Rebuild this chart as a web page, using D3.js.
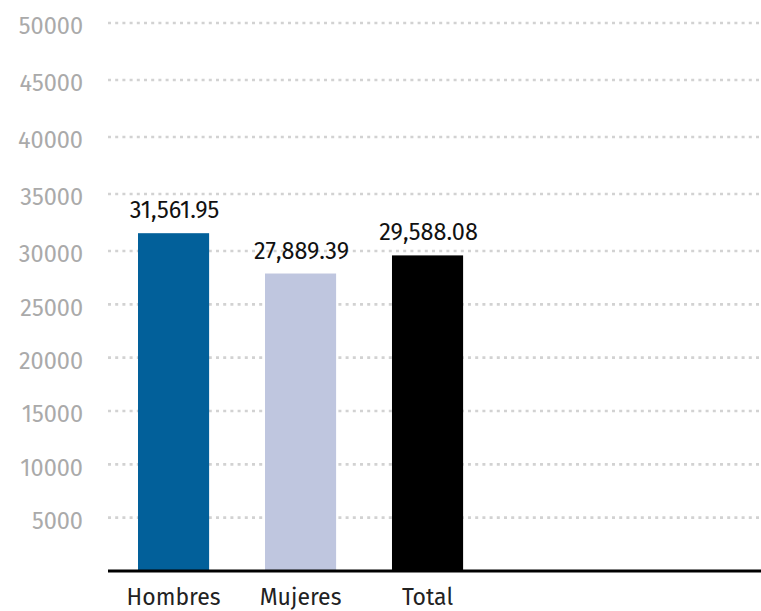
<!DOCTYPE html>
<html>
<head>
<meta charset="utf-8">
<script src="https://cdn.jsdelivr.net/npm/d3@7"></script>
<style>
  html, body { margin: 0; padding: 0; background: #fff; }
  svg { display: block; }
</style>
</head>
<body>
<svg id="chart" width="761" height="611"></svg>
<script>
const categories = ["Hombres", "Mujeres", "Total"];
const values = [31561.95, 27889.39, 29588.08];
const colors = ["#02609a", "#bfc6df", "#000000"];
const yTicks = [5000, 10000, 15000, 20000, 25000, 30000, 35000, 40000, 45000, 50000];
const valueLabels = ["31,561.95", "27,889.39", "29,588.08"];

const svg = d3.select("#chart");
const font = "'Fira Sans', 'Noto Sans', 'Open Sans', sans-serif";

const x = d3.scaleBand()
  .domain(categories)
  .range([112.6, 488.5])
  .paddingInner(0.44)
  .paddingOuter(0.2);

const y = d3.scaleLinear()
  .domain([0, 30000, 50000])
  .range([571, 251, 23]);

// gridlines
svg.append("g").selectAll("line")
  .data(yTicks)
  .join("line")
  .attr("x1", 108).attr("x2", 761)
  .attr("y1", d => y(d)).attr("y2", d => y(d))
  .attr("stroke", "#d2d2d2")
  .attr("stroke-width", 2.6)
  .attr("stroke-dasharray", "3,4.2");

// y tick labels
svg.append("g").selectAll("text")
  .data(yTicks)
  .join("text")
  .attr("x", 83)
  .attr("y", d => y(d) + 3)
  .attr("dy", "0.35em")
  .attr("text-anchor", "end")
  .attr("font-family", font)
  .attr("font-size", 23.5)
  .attr("fill", "#aaaaaa")
  .text(d => d);

// bars
svg.append("g").selectAll("rect")
  .data(categories)
  .join("rect")
  .attr("x", d => x(d))
  .attr("width", x.bandwidth())
  .attr("y", (d, i) => y(values[i]))
  .attr("height", (d, i) => y(0) - y(values[i]))
  .attr("fill", (d, i) => colors[i]);

// value labels
svg.append("g").selectAll("text")
  .data(categories)
  .join("text")
  .attr("x", d => x(d) + x.bandwidth() / 2 + 1)
  .attr("y", (d, i) => y(values[i]) - 15)
  .attr("text-anchor", "middle")
  .attr("font-family", font)
  .attr("font-size", 23.5)
  .attr("fill", "#111")
  .text((d, i) => valueLabels[i]);

// baseline
svg.append("line")
  .attr("x1", 108).attr("x2", 761)
  .attr("y1", y(0)).attr("y2", y(0))
  .attr("stroke", "#000")
  .attr("stroke-width", 3);

// category labels
svg.append("g").selectAll("text")
  .data(categories)
  .join("text")
  .attr("x", d => x(d) + x.bandwidth() / 2)
  .attr("y", 605)
  .attr("text-anchor", "middle")
  .attr("font-family", font)
  .attr("font-size", 23)
  .attr("fill", "#222")
  .text(d => d);
</script>
</body>
</html>
